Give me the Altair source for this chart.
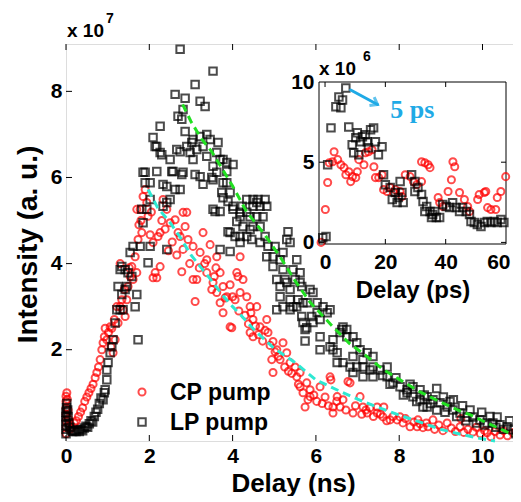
import altair as alt
import pandas as pd

FONT = "Liberation Sans"

# ---------------- data ----------------
# main panel: delay (ns), intensity (x 1e7)
cp_main = [
    (0.0,0.05),(0.0,0.2),(0.0,0.35),(0.0,0.5),(0.0,0.65),(0.0,0.8),(0.0,0.92),(0.02,1.0),(0.03,0.85),(0.05,0.6),
    (0.06,0.4),(0.08,0.25),(0.1,0.15),(0.15,0.2),(0.2,0.3),(0.25,0.35),(0.3,0.45),(0.35,0.55),(0.4,0.65),(0.45,0.8),
    (0.5,0.9),(0.55,1.0),(0.6,1.1),(0.65,1.2),(0.7,1.35),(0.74,1.47),(0.78,1.6),(0.82,1.77),(0.86,2.0),(0.89,2.16),
    (0.92,2.3),(0.94,2.5),(0.98,2.23),(1.02,2.4),(1.06,2.53),(1.08,2.07),(1.1,2.5),(1.13,1.93),(1.16,2.7),(1.18,2.23),
    (1.22,3.0),(1.25,2.62),(1.3,3.0),(1.3,4.0),(1.34,3.16),(1.37,2.93),(1.4,3.4),(1.42,2.77),(1.46,3.16),(1.49,3.47),
    (1.52,3.9),(1.54,3.7),(1.58,3.93),(1.61,3.63),(1.66,4.16),(1.7,3.79),(1.7,5.26),(1.73,4.56),(1.75,4.9),(1.78,5.26),
    (1.8,5.0),(1.82,4.72),(1.85,5.56),(1.9,5.72),(1.94,5.42),(1.97,5.1),(2.02,4.67),(2.05,5.2),(2.09,4.49),(2.09,3.67),
    (2.14,3.79),(2.18,3.67),(2.21,4.63),(2.26,3.93),(2.26,4.72),(2.3,5.0),(2.33,5.49),(2.38,4.8),(2.42,5.26),(2.46,4.3),
    (2.5,4.95),(2.55,4.5),(2.62,5.02),(2.66,4.2),(2.69,4.72),(2.74,4.63),(2.78,3.81),(2.81,5.19),(2.81,4.33),(2.86,4.86),
    (2.9,5.19),(2.93,4.56),(2.97,4.0),(3.05,4.4),(3.05,3.63),(3.1,3.12),(3.14,3.63),(3.2,3.9),(3.22,4.26),(3.29,4.72),
    (3.33,4.0),(3.38,4.09),(3.38,3.79),(3.46,4.44),(3.5,3.4),(3.53,3.56),(3.56,3.7),(3.6,3.9),(3.62,4.16),(3.62,3.33),
    (3.7,3.79),(3.7,3.09),(3.77,3.47),(3.77,2.86),(3.82,3.2),(3.86,3.23),(3.94,3.51),(3.94,2.53),(3.98,2.51),(4.0,3.23),
    (4.06,3.16),(4.1,3.79),(4.13,3.7),(4.15,2.9),(4.18,4.16),(4.18,3.33),(4.25,3.63),(4.3,2.8),(4.34,3.23),(4.38,2.6),
    (4.42,3.0),(4.44,2.86),(4.42,2.4),(4.49,2.7),(4.49,2.3),(4.55,2.55),(4.58,3.0),(4.62,2.35),(4.66,2.53),(4.72,2.2),
    (4.78,2.45),(4.82,2.7),(4.85,2.4),(4.9,2.1),(4.94,1.77),(4.97,2.19),(4.97,1.47),(5.02,1.95),(5.06,2.0),(5.1,1.85),
    (5.14,1.77),(5.21,2.16),(5.25,1.6),(5.3,1.93),(5.34,1.5),(5.38,1.7),(5.42,1.45),(5.5,1.6),(5.54,1.37),(5.58,1.2),
    (5.62,1.47),(5.62,1.14),(5.69,1.0),(5.74,0.67),(5.78,1.23),(5.81,0.84),(5.86,1.07),(5.86,0.91),(5.95,0.95),(6.02,0.8),
    (6.1,1.14),(6.15,0.75),(6.22,0.9),(6.3,0.7),(6.34,1.37),(6.36,1.3),(6.41,0.67),(6.41,0.53),(6.5,0.8),(6.51,0.91),
    (6.58,0.67),(6.65,0.84),(6.72,0.6),(6.77,1.26),(6.82,1.23),(6.89,0.53),(6.95,0.7),(7.06,0.91),(7.1,0.5),(7.13,0.67),
    (7.2,0.6),(7.23,0.53),(7.3,0.65),(7.38,0.45),(7.47,0.67),(7.47,0.53),(7.55,0.5),(7.61,0.44),(7.63,0.67),(7.7,0.35),
    (7.78,0.37),(7.85,0.45),(7.95,0.37),(8.02,0.44),(8.09,0.3),(8.15,0.4),(8.26,0.21),(8.35,0.32),(8.43,0.21),(8.45,0.37),
    (8.5,0.28),(8.57,0.19),(8.65,0.3),(8.69,0.21),(8.81,0.37),(8.85,0.15),(8.95,0.25),(9.05,0.12),(9.15,0.3),(9.25,0.18),
    (9.35,0.1),(9.46,0.21),(9.48,0.4),(9.55,0.08),(9.65,0.15),(9.77,0.09),(9.85,0.2),(9.95,0.05),(10.05,0.12),(10.11,0.07),
    (10.2,-0.02),(10.3,0.1),(10.42,0.02),(10.5,0.12),(10.6,0.0),(10.73,0.07),(10.8,0.1),
]

lp_main = [
    (0.0,0.05),(0.0,0.15),(0.0,0.25),(0.0,0.35),(0.0,0.45),(0.0,0.55),(0.01,0.65),(0.02,0.75),(0.04,0.6),(0.05,0.45),
    (0.07,0.3),(0.09,0.2),(0.12,0.12),(0.16,0.1),(0.2,0.12),(0.24,0.1),(0.28,0.14),(0.32,0.1),(0.36,0.15),(0.4,0.12),
    (0.44,0.18),(0.48,0.22),(0.52,0.2),(0.56,0.28),(0.6,0.35),(0.64,0.32),(0.68,0.45),(0.72,0.55),(0.76,0.62),(0.8,0.75),
    (0.84,0.88),(0.89,0.84),(0.92,1.0),(0.94,1.07),(0.98,1.3),(0.98,1.53),(1.01,1.7),(1.06,1.93),(1.1,2.07),(1.13,2.23),
    (1.18,2.62),(1.22,2.93),(1.25,3.47),(1.3,2.93),(1.3,3.86),(1.34,3.28),(1.34,3.93),(1.37,2.93),(1.42,3.4),(1.42,3.86),
    (1.46,3.47),(1.49,3.79),(1.54,4.26),(1.58,3.7),(1.61,4.4),(1.66,3.0),(1.7,3.28),(1.73,2.23),(1.78,4.4),(1.82,5.26),
    (1.85,4.95),(1.85,6.12),(1.9,5.88),(1.9,6.12),(1.94,5.26),(1.97,4.02),(2.02,4.4),(2.02,5.49),(2.02,5.88),(2.09,6.93),
    (2.14,6.72),(2.18,6.14),(2.18,6.72),(2.26,6.58),(2.26,7.19),(2.3,6.53),(2.33,5.84),(2.33,5.33),(2.42,5.79),(2.42,5.42),
    (2.42,4.33),(2.5,6.42),(2.5,5.49),(2.54,6.14),(2.57,6.14),(2.62,5.72),(2.62,7.93),(2.66,6.65),(2.69,7.42),(2.74,8.98),
    (2.74,6.6),(2.74,5.72),(2.78,6.07),(2.78,7.35),(2.81,7.58),(2.81,6.12),(2.86,7.84),(2.86,7.07),(2.9,6.72),(2.98,6.58),
    (3.02,6.81),(3.05,6.42),(3.05,6.88),(3.1,8.16),(3.1,6.07),(3.14,6.65),(3.22,7.77),(3.22,6.95),(3.22,6.02),(3.29,6.72),
    (3.29,5.84),(3.34,7.65),(3.38,7.0),(3.38,6.49),(3.46,6.88),(3.5,6.0),(3.53,8.47),(3.53,6.26),(3.53,5.95),(3.53,5.26),
    (3.58,5.21),(3.62,6.58),(3.62,6.12),(3.65,6.81),(3.7,6.42),(3.7,5.21),(3.7,4.33),(3.74,5.65),(3.77,6.42),(3.77,5.88),
    (3.77,5.53),(3.86,6.35),(3.86,6.14),(3.86,5.88),(3.89,5.44),(3.89,4.74),(3.94,5.65),(3.94,4.72),(3.94,4.28),(4.01,6.3),
    (4.01,5.33),(4.01,5.26),(4.06,4.63),(4.1,4.98),(4.18,5.19),(4.18,5.09),(4.18,4.63),(4.18,4.49),(4.23,5.33),(4.25,4.86),
    (4.34,5.19),(4.34,5.49),(4.34,4.63),(4.42,5.09),(4.42,4.79),(4.46,4.56),(4.49,5.49),(4.49,5.33),(4.49,4.86),(4.58,5.42),
    (4.58,5.09),(4.61,5.49),(4.66,5.33),(4.66,4.86),(4.66,4.49),(4.73,5.09),(4.78,5.49),(4.78,4.63),(4.82,5.33),(4.82,4.16),
    (4.85,4.4),(4.97,4.16),(4.97,3.93),(5.02,4.4),(5.06,3.63),(5.06,2.93),(5.14,4.09),(5.14,3.47),(5.14,3.23),(5.21,4.26),
    (5.21,3.86),(5.21,3.0),(5.26,3.63),(5.3,4.56),(5.3,3.56),(5.33,4.74),(5.38,4.49),(5.38,3.4),(5.38,3.16),(5.38,2.93),
    (5.45,3.86),(5.45,3.0),(5.5,3.63),(5.54,4.09),(5.54,3.0),(5.57,3.16),(5.62,3.79),(5.62,3.56),(5.66,3.47),(5.66,2.77),
    (5.69,2.63),(5.69,3.09),(5.74,2.47),(5.74,2.2),(5.78,2.51),(5.79,3.09),(5.86,3.4),(5.9,2.77),(5.93,3.33),(5.93,2.63),
    (6.03,3.09),(6.03,2.86),(6.1,2.7),(6.1,2.3),(6.1,2.0),(6.17,3.0),(6.27,2.86),(6.34,2.93),(6.34,2.07),(6.41,2.23),
    (6.41,2.0),(6.51,1.93),(6.51,1.7),(6.58,2.4),(6.62,2.47),(6.65,2.53),(6.65,1.7),(6.74,2.47),(6.74,2.3),(6.82,1.6),
    (6.89,2.3),(6.89,1.84),(6.89,1.47),(6.98,2.16),(6.98,1.6),(7.06,2.0),(7.13,1.77),(7.13,1.6),(7.13,1.37),(7.23,1.93),
    (7.3,1.53),(7.37,1.84),(7.37,1.6),(7.37,1.37),(7.54,1.53),(7.6,1.4),(7.71,1.6),(7.71,1.37),(7.78,1.2),(7.85,1.23),
    (7.92,1.35),(8.02,1.14),(8.1,0.95),(8.19,1.0),(8.19,1.07),(8.26,1.2),(8.33,0.91),(8.33,1.14),(8.42,0.8),(8.5,0.84),
    (8.5,1.07),(8.57,0.67),(8.6,0.95),(8.67,0.91),(8.67,0.67),(8.75,0.75),(8.81,0.84),(8.9,1.1),(8.9,0.6),(8.98,0.77),
    (9.06,0.9),(9.1,0.55),(9.15,0.67),(9.22,0.8),(9.29,0.6),(9.3,0.84),(9.38,0.45),(9.46,0.53),(9.52,0.7),(9.6,0.35),
    (9.63,0.44),(9.7,0.6),(9.77,0.44),(9.85,0.3),(9.94,0.37),(9.98,0.55),(10.05,0.25),(10.11,0.3),(10.18,0.45),(10.25,0.3),
    (10.32,0.2),(10.35,0.44),(10.42,0.26),(10.5,0.15),(10.59,0.21),(10.65,0.35),(10.73,0.14),(10.8,0.05),(10.85,0.19),(10.85,0.3),
]

# fitted decays (dashed)
cp_fit = [
    (1.97,5.72),(2.2,5.3),(2.5,4.95),(2.75,4.6),(3.0,4.2),(3.25,3.9),(3.5,3.6),(3.75,3.28),(4.0,3.0),(4.25,2.75),
    (4.5,2.48),(4.75,2.25),(5.0,2.03),(5.5,1.7),(6.0,1.3),(6.5,1.07),(7.0,0.85),(7.5,0.66),(8.0,0.48),(8.5,0.32),
    (9.0,0.15),(9.5,0.03),(10.0,-0.07),(10.3,-0.12),
]
lp_fit = [
    (2.8,7.7),(3.0,7.3),(3.25,6.9),(3.5,6.6),(3.75,6.2),(4.0,5.8),(4.34,5.2),(4.75,4.7),(5.14,4.16),(5.5,3.6),
    (5.86,3.1),(6.2,2.75),(6.41,2.53),(6.8,2.15),(7.23,1.84),(7.6,1.55),(8.02,1.3),(8.5,1.02),(9.0,0.78),(9.5,0.56),
    (9.7,0.49),(10.0,0.35),(10.4,0.17),(10.73,0.03),(10.9,-0.02),
]

# inset: delay (ps), intensity (x 1e6)
cp_inset = [
    (-1.3,0.0),(0.1,2.05),(0.87,3.73),(1.4,4.97),(2.5,5.03),(3.0,5.65),(4.2,5.16),(5.25,4.84),(6.3,4.66),(6.9,4.22),
    (7.9,4.41),(8.5,3.79),(9.1,4.1),(10.2,4.04),(10.7,4.41),(11.2,5.16),(12.9,4.84),(13.4,5.59),(14.4,5.65),(15.6,5.78),
    (16.2,4.72),(16.7,4.04),(17.8,4.04),(18.9,4.22),(19.4,3.29),(20.6,3.17),(21.6,3.42),(22.7,3.11),(23.3,3.29),(24.9,3.17),
    (25.5,2.86),(26.6,4.22),(28.2,4.1),(29.3,3.79),(30.4,3.6),(32.0,3.79),(32.0,5.03),(33.1,4.97),(34.2,4.84),(34.8,4.66),
    (37.5,2.8),(38.0,2.48),(39.1,2.24),(40.8,3.17),(41.9,3.91),(42.4,5.03),(43.0,4.72),(44.6,3.11),(46.2,2.67),(47.3,2.24),
    (47.9,1.93),(50.6,2.67),(51.1,2.98),(52.8,3.11),(53.3,3.17),(53.9,2.17),(55.0,2.05),(56.6,2.05),(57.1,2.8),(58.3,3.17),
    (59.9,4.1),
]
lp_inset = [
    (-0.75,0.29),(0.33,0.37),(0.87,4.84),(1.97,7.14),(3.6,8.45),(4.6,9.07),(5.25,8.39),(5.8,8.88),(6.89,9.63),(7.87,7.2),
    (9.0,6.09),(9.5,5.59),(10.2,6.52),(10.7,6.83),(11.2,5.47),(11.8,6.27),(12.4,6.58),(13.4,6.71),(14.0,6.27),(14.4,5.9),
    (15.1,7.02),(16.1,7.14),(16.7,6.27),(17.7,5.47),(18.9,5.96),(19.4,4.22),(20.0,3.6),(21.6,3.42),(22.3,2.67),(23.3,3.11),
    (23.9,2.48),(24.3,2.8),(24.9,3.79),(25.5,3.11),(25.9,2.48),(28.7,4.22),(29.8,3.79),(29.8,3.17),(30.8,3.42),(32.0,2.98),
    (32.5,2.55),(33.1,1.93),(33.7,2.24),(34.8,1.93),(35.3,1.55),(35.7,1.74),(36.4,1.93),(36.9,1.55),(38.0,1.55),(39.0,2.36),
    (40.2,2.24),(41.3,2.17),(42.3,2.48),(43.5,2.17),(44.6,1.93),(45.6,2.17),(46.8,1.93),(47.9,1.74),(48.4,1.3),(49.5,1.24),
    (50.5,1.12),(51.7,0.99),(52.8,1.24),(53.8,1.3),(55.0,1.24),(56.1,1.3),(57.1,1.24),(58.3,1.43),(59.3,1.24),
]

main_x_ticks = [0, 2, 4, 6, 8, 10]
main_y_ticks = [2, 4, 6, 8]
inset_x_ticks = [0, 20, 40, 60]
inset_y_ticks = [0, 5, 10]
inset_x_domain = [-2, 60]
inset_y_domain = [-0.1, 10]
arrow = [{"x0": 8.5, "y0": 9.5, "x1": 17.4, "y1": 8.6}]
arrow_label = [{"x": 21.6, "y": 7.75, "text": "5 ps"}]

# ---------------- frames ----------------
def pts(pairs, a, b):
    return pd.DataFrame({a: [p[0] for p in pairs], b: [p[1] for p in pairs]})

W, H = 454, 397
RED, CYAN, GREEN, BLUE = "#ff0000", "#2ee8d2", "#22e022", "#1faae6"
SW = 2.0

mx = alt.Scale(domain=[0, 10.9], nice=False, zero=False)
my = alt.Scale(domain=[-0.12, 9.1], nice=False, zero=False)
ix = alt.Scale(domain=inset_x_domain, range=[253, 440], nice=False, zero=False)
iy = alt.Scale(domain=inset_y_domain, range=[200, 38], nice=False, zero=False)

lab = dict(labelFont=FONT, labelFontSize=21, labelFontWeight="bold", labelColor="black",
           ticks=False, domain=False, grid=False, labelOverlap=False)
tit = dict(titleFont=FONT, titleFontWeight="bold", titleColor="black")

ax_mx = alt.Axis(orient="bottom", values=main_x_ticks, labelPadding=4, labelFlush=False,
                 title="Delay (ns)", titleFontSize=26, titleBaseline="alphabetic", titleY=50, **lab, **tit)
ax_my = alt.Axis(orient="left", values=main_y_ticks, labelPadding=4,
                 title="Intensity (a. u.)", titleFontSize=28, titleAngle=270, titleBaseline="alphabetic",
                 titleAlign="center", titleX=-30, titleY=200, **lab, **tit)
ax_ix = alt.Axis(orient="bottom", offset=-197, values=inset_x_ticks, labelPadding=7, labelFlush=True,
                 labelFlushOffset=4,
                 title="Delay (ps)", titleFontSize=24, titleBaseline="alphabetic", titleY=53, **lab, **tit)
ax_iy = alt.Axis(orient="left", offset=-253, values=inset_y_ticks, labelPadding=5, title=None, **lab)

def MX(f): return alt.X(f, type="quantitative", scale=mx, axis=ax_mx)
def MY(f): return alt.Y(f, type="quantitative", scale=my, axis=ax_my)
def IX(f): return alt.X(f, type="quantitative", scale=ix, axis=ax_ix)
def IY(f): return alt.Y(f, type="quantitative", scale=iy, axis=ax_iy)

# ---------------- main panel ----------------
red = alt.Chart(pts(cp_main, "t", "v")).mark_point(shape="circle", filled=False, size=50, strokeWidth=SW, color=RED).encode(x=MX("t"), y=MY("v"))
blk = alt.Chart(pts(lp_main, "t", "v")).mark_point(shape="square", filled=False, size=56, strokeWidth=SW, color="black").encode(x=MX("t"), y=MY("v"))
cfit = alt.Chart(pts(cp_fit, "t", "v")).mark_line(color=CYAN, strokeWidth=3, strokeDash=[8, 5]).encode(x=MX("t"), y=MY("v"))
gfit = alt.Chart(pts(lp_fit, "t", "v")).mark_line(color=GREEN, strokeWidth=3, strokeDash=[8, 5]).encode(x=MX("t"), y=MY("v"))

mxt = pd.DataFrame({"t": main_x_ticks})
myt = pd.DataFrame({"v": main_y_ticks})
tick_style = dict(color="black", strokeWidth=1)
tb = alt.Chart(mxt).mark_rule(**tick_style).encode(x=MX("t"), y=alt.value(H), y2=alt.value(H - 6))
tt = alt.Chart(mxt).mark_rule(**tick_style).encode(x=MX("t"), y=alt.value(0), y2=alt.value(6))
tl = alt.Chart(myt).mark_rule(**tick_style).encode(y=MY("v"), x=alt.value(0), x2=alt.value(6))
tr = alt.Chart(myt).mark_rule(**tick_style).encode(y=MY("v"), x=alt.value(W), x2=alt.value(W - 6))

one = pd.DataFrame({"k": [0]})
leg_c = alt.Chart(one).mark_point(shape="circle", filled=False, size=50, strokeWidth=SW, color=RED).encode(x=alt.value(76), y=alt.value(348))
leg_s = alt.Chart(one).mark_point(shape="square", filled=False, size=56, strokeWidth=SW, color="black").encode(x=alt.value(76), y=alt.value(378))
leg_t1 = alt.Chart(one).mark_text(text="CP pump", font=FONT, fontSize=23, fontWeight="bold", align="left", baseline="alphabetic", color="black").encode(x=alt.value(104), y=alt.value(356))
leg_t2 = alt.Chart(one).mark_text(text="LP pump", font=FONT, fontSize=23, fontWeight="bold", align="left", baseline="alphabetic", color="black").encode(x=alt.value(104), y=alt.value(386))
exp7 = alt.Chart(one).mark_text(text="x 10", font=FONT, fontSize=19, fontWeight="bold", align="left", baseline="alphabetic", color="black").encode(x=alt.value(1), y=alt.value(-7))
exp7s = alt.Chart(one).mark_text(text="7", font=FONT, fontSize=14, fontWeight="bold", align="left", baseline="alphabetic", color="black").encode(x=alt.value(40), y=alt.value(-21))

main = alt.layer(red, blk, cfit, gfit, tb, tt, tl, tr, leg_c, leg_s, leg_t1, leg_t2, exp7, exp7s)

# ---------------- inset ----------------
frame_df = pd.DataFrame({"x0": [inset_x_domain[0]], "x1": [inset_x_domain[1]], "y0": [inset_y_domain[0]], "y1": [inset_y_domain[1]]})
frame = alt.Chart(frame_df).mark_rect(fill="white", stroke="black", strokeWidth=1).encode(
    x=IX("x0"), x2="x1", y=IY("y0"), y2="y1")
ired = alt.Chart(pts(cp_inset, "p", "v")).mark_point(shape="circle", filled=False, size=50, strokeWidth=SW, color=RED).encode(x=IX("p"), y=IY("v"))
iblk = alt.Chart(pts(lp_inset, "p", "v")).mark_point(shape="square", filled=False, size=56, strokeWidth=SW, color="black").encode(x=IX("p"), y=IY("v"))

ixt = pd.DataFrame({"p": inset_x_ticks[:-1]})
iyt = pd.DataFrame({"v": inset_y_ticks[:-1]})
itb = alt.Chart(ixt).mark_rule(**tick_style).encode(x=IX("p"), y=alt.value(200), y2=alt.value(195))
itt = alt.Chart(ixt).mark_rule(**tick_style).encode(x=IX("p"), y=alt.value(38), y2=alt.value(43))
itl = alt.Chart(iyt).mark_rule(**tick_style).encode(y=IY("v"), x=alt.value(253), x2=alt.value(258))
itr = alt.Chart(iyt).mark_rule(**tick_style).encode(y=IY("v"), x=alt.value(440), x2=alt.value(435))

arr = alt.Chart(pd.DataFrame(arrow)).mark_rule(color=BLUE, strokeWidth=3, strokeCap="round").encode(
    x=IX("x0"), x2="x1", y=IY("y0"), y2="y1")
head = alt.Chart(pd.DataFrame(arrow)).mark_point(shape="M-1,-0.75L0,0L-1,0.75", filled=False, size=170,
                                                 angle=29, strokeWidth=3, color=BLUE).encode(x=IX("x1"), y=IY("y1"))
ptxt = alt.Chart(pd.DataFrame(arrow_label)).mark_text(font="Liberation Serif", fontSize=26, fontWeight="bold",
                                                      align="left", baseline="alphabetic", color=BLUE).encode(
    x=IX("x"), y=IY("y"), text="text:N")
exp6 = alt.Chart(one).mark_text(text="x 10", font=FONT, fontSize=19, fontWeight="bold", align="left", baseline="alphabetic", color="black").encode(x=alt.value(253), y=alt.value(31))
exp6s = alt.Chart(one).mark_text(text="6", font=FONT, fontSize=14, fontWeight="bold", align="left", baseline="alphabetic", color="black").encode(x=alt.value(297), y=alt.value(17))

inset = alt.layer(frame, ired, iblk, itb, itt, itl, itr, arr, head, ptxt, exp6, exp6s)

chart = alt.layer(main, inset).resolve_scale(x="independent", y="independent").properties(
    width=W, height=H,
    autosize=alt.AutoSizeParams(type="none"),
    padding={"left": 58, "top": 36, "right": -7, "bottom": 55},
).configure_view(stroke="black", strokeWidth=1).configure(background="white")

chart.save("out.html", embed_options={"renderer": "svg", "actions": False})
